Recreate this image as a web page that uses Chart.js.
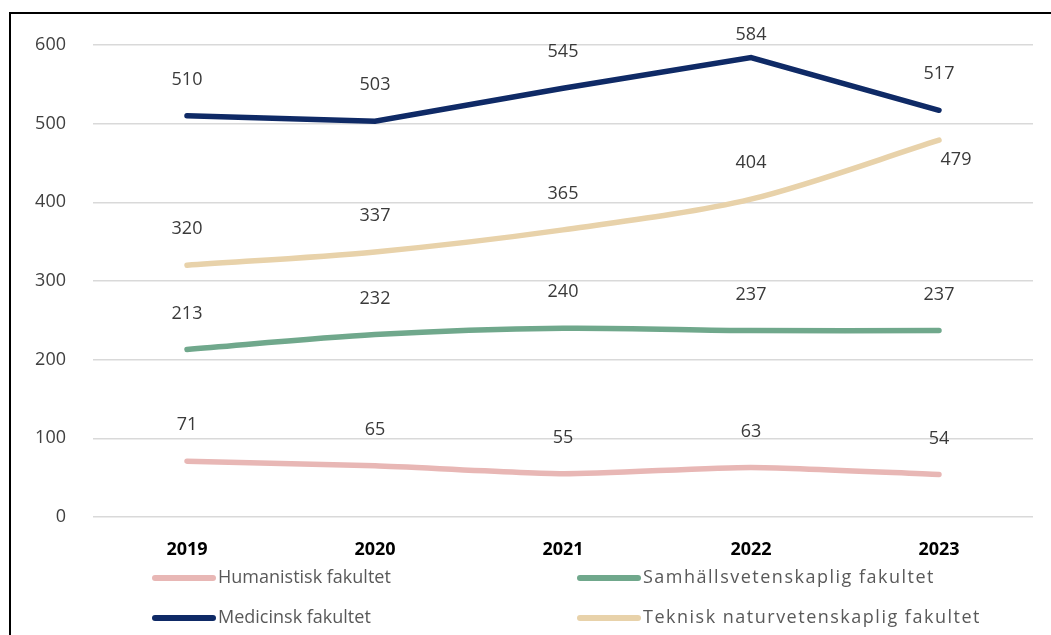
<html lang="sv">
  <head>
    <meta charset="utf-8" />
    <title>Fakulteter 2019-2023</title>
    <script src="https://cdn.jsdelivr.net/npm/chart.js@4.4.1/dist/chart.umd.min.js"></script>
    <style>
* {
  margin: 0;
  padding: 0;
  box-sizing: border-box;
}
body {
  background: #ffffff;
  width: 1051px;
  height: 635px;
  overflow: hidden;
}
.frame {
  position: absolute;
  left: 9px;
  top: 12px;
  width: 1042px;
  height: 623px;
  border-left: 2px solid #000;
  border-top: 2px solid #000;
}
#chart {
  display: block;
}
    </style>
  </head>
  <body>
    <div class="frame">
      <canvas id="chart" width="1040" height="621"></canvas>
    </div>

    <script>
      // Data
      const years = ["2019", "2020", "2021", "2022", "2023"];
      const humanistisk = [71, 65, 55, 63, 54];
      const samhall = [213, 232, 240, 237, 237];
      const medicinsk = [510, 503, 545, 584, 517];
      const teknisk = [320, 337, 365, 404, 479];
      const seriesNames = [
        "Humanistisk fakultet",
        "Samhällsvetenskaplig fakultet",
        "Medicinsk fakultet",
        "Teknisk naturvetenskaplig fakultet"
      ];
      const yTicks = [0, 100, 200, 300, 400, 500, 600];

      const colors = ["#e8b7b5", "#70a88c", "#0f2a66", "#e8d2aa"];
      const FONT = "'Open Sans', sans-serif";

      // a few labels are moved by Excel, keyed "dataset-point"
      const labelMoves = {
        "2-3": [0, -23],
        "3-4": [17, 20]
      };

      // value labels above each point
      const valueLabels = {
        id: "valueLabels",
        afterDatasetsDraw(chart) {
          const ctx = chart.ctx;
          ctx.save();
          ctx.font = "18px " + FONT;
          ctx.fillStyle = "#3a3a3a";
          ctx.textAlign = "center";
          ctx.textBaseline = "middle";
          chart.data.datasets.forEach((ds, i) => {
            const meta = chart.getDatasetMeta(i);
            meta.data.forEach((pt, j) => {
              const mv = labelMoves[i + "-" + j] || [0, -36];
              ctx.fillText(ds.data[j], pt.x + mv[0], pt.y + mv[1]);
            });
          });
          ctx.restore();
        }
      };

      // two column legend at the bottom
      const bottomLegend = {
        id: "bottomLegend",
        afterDraw(chart) {
          const ctx = chart.ctx;
          const colX = [144, 569];
          const rowY = [564, 604];
          const spacing = ["0px", "1.5px"];
          ctx.save();
          ctx.font = "18px " + FONT;
          ctx.textBaseline = "middle";
          ctx.fillStyle = "#595959";
          chart.data.datasets.forEach((ds, i) => {
            const x = colX[i % 2];
            const y = rowY[Math.floor(i / 2)];
            ctx.strokeStyle = ds.borderColor;
            ctx.lineWidth = 6;
            ctx.lineCap = "round";
            ctx.beginPath();
            ctx.moveTo(x, y);
            ctx.lineTo(x + 58, y);
            ctx.stroke();
            ctx.letterSpacing = spacing[i % 2];
            ctx.fillText(ds.label, x + 63, y);
          });
          ctx.restore();
        }
      };

      const makeSet = (label, data, color, tension) => ({
        label: label,
        data: data,
        borderColor: color,
        backgroundColor: color,
        borderWidth: 5.5,
        borderCapStyle: "round",
        pointRadius: 0,
        tension: tension
      });

      new Chart(document.getElementById("chart"), {
        type: "line",
        plugins: [valueLabels, bottomLegend],
        data: {
          labels: years,
          datasets: [
            makeSet(seriesNames[0], humanistisk, colors[0], 0.2),
            makeSet(seriesNames[1], samhall, colors[1], 0.3),
            makeSet(seriesNames[2], medicinsk, colors[2], 0),
            makeSet(seriesNames[3], teknisk, colors[3], 0.3)
          ]
        },
        options: {
          responsive: false,
          animation: false,
          layout: { padding: { top: 31, right: 18, left: 0, bottom: 0 } },
          plugins: {
            legend: { display: false },
            tooltip: { enabled: false }
          },
          scales: {
            x: {
              offset: true,
              grid: { display: false, drawTicks: false },
              border: { display: false },
              ticks: {
                padding: 22,
                color: "#000",
                font: { family: FONT, size: 18, weight: "bold" }
              },
              afterFit: (s) => { s.height = 118; s.paddingLeft = 0; s.paddingRight = 0; }
            },
            y: {
              min: 0,
              max: 600,
              afterBuildTicks: (s) => { s.ticks = yTicks.map((v) => ({ value: v })); },
              grid: { color: "#d9d9d9", lineWidth: 1.5, drawTicks: false },
              border: { display: false },
              ticks: {
                padding: 27,
                color: "#404040",
                font: { family: FONT, size: 18 }
              },
              afterFit: (s) => { s.width = 82; s.paddingTop = 0; s.paddingBottom = 0; }
            }
          }
        }
      });
    </script>
  </body>
</html>
